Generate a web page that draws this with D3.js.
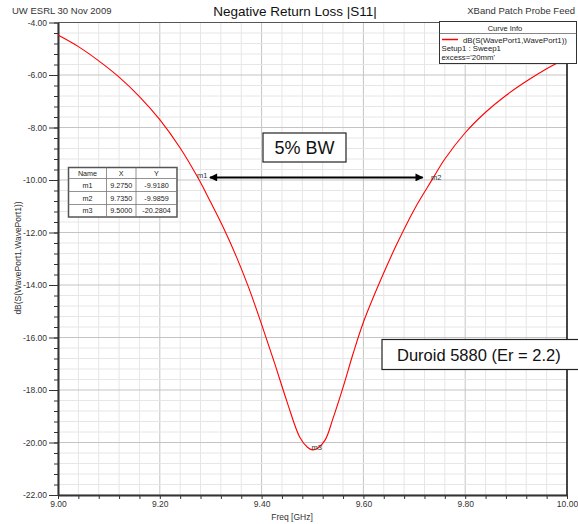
<!DOCTYPE html>
<html>
<head>
<meta charset="utf-8">
<script src="https://cdn.jsdelivr.net/npm/d3@7"></script>
<style>
  html, body { margin: 0; padding: 0; background: #fff; }
  svg { display: block; font-family: "Liberation Sans", Arial, sans-serif; }
</style>
</head>
<body>
<svg id="chart" width="578" height="524"></svg>
<script>
// Swept S11 of the X-band patch (probe feed)
const freqGHz = [9.00, 9.04, 9.08, 9.12, 9.16, 9.20, 9.24, 9.275, 9.30, 9.325, 9.35, 9.375, 9.40, 9.425,
                 9.45, 9.475, 9.49, 9.50, 9.51, 9.525, 9.54, 9.56, 9.58, 9.60, 9.633, 9.665, 9.70, 9.735,
                 9.76, 9.80, 9.84, 9.88, 9.92, 9.96, 10.00];
const s11dB   = [-4.48, -4.92, -5.46, -6.08, -6.82, -7.70, -8.78, -9.918, -10.85, -11.82, -12.90, -14.12, -15.50, -16.95,
                 -18.45, -19.80, -20.18, -20.2804, -20.22, -19.90, -19.10, -17.90, -16.60, -15.42, -13.85, -12.47, -11.12, -9.9859,
                 -9.20, -8.20, -7.42, -6.78, -6.24, -5.76, -5.35];

// Marker table
const markerNames = ["m1", "m2", "m3"];
const markerFreq  = [9.2750, 9.7350, 9.5000];
const markerDB    = [-9.9180, -9.9859, -20.2804];

// Bandwidth arrow span (GHz) and level (dB)
const bwFreq  = [9.2985, 9.7165];
const bwLevel = -9.9;

// Axis ticks
const xTicks = [9.00, 9.20, 9.40, 9.60, 9.80, 10.00];
const yTicks = [-22, -20, -18, -16, -14, -12, -10, -8, -6, -4];
const xMinorStep = 0.04;
const yMinorStep = 0.4;

const svg = d3.select("#chart");
const plotL = 58, plotR = 567, plotT = 22.5, plotB = 495;
const x = d3.scaleLinear().domain([9, 10]).range([plotL, plotR]);
const y = d3.scaleLinear().domain([-22, -4]).range([plotB, plotT]);

const fix = n => v => v.toFixed(n);   // plain hyphen-minus, fixed decimals
const xMinor = d3.range(0, 26).map(i => +(9 + i * xMinorStep).toFixed(3));
const yMinor = d3.range(0, 46).map(i => +(-22 + i * yMinorStep).toFixed(3));
const isMajorX = v => xTicks.some(t => Math.abs(t - v) < 1e-6);
const isMajorY = v => yTicks.some(t => Math.abs(t - v) < 1e-6);

// Grid
const grid = svg.append("g");
grid.selectAll("line.vx").data(xMinor).join("line")
  .attr("x1", d => x(d)).attr("x2", d => x(d))
  .attr("y1", plotT).attr("y2", plotB)
  .attr("stroke", d => isMajorX(d) ? "#c4c4c4" : "#e6e6e6")
  .attr("stroke-width", 1);
grid.selectAll("line.hy").data(yMinor).join("line")
  .attr("y1", d => y(d)).attr("y2", d => y(d))
  .attr("x1", plotL).attr("x2", plotR)
  .attr("stroke", d => isMajorY(d) ? "#c4c4c4" : "#e6e6e6")
  .attr("stroke-width", 1);

// Plot frame (top and right)
svg.append("line").attr("x1", plotL).attr("x2", plotR).attr("y1", plotT).attr("y2", plotT)
  .attr("stroke", "#555").attr("stroke-width", 1);
svg.append("line").attr("x1", plotR).attr("x2", plotR).attr("y1", plotT).attr("y2", plotB)
  .attr("stroke", "#111").attr("stroke-width", 1.5);

// Minor ticks
svg.append("g").attr("transform", `translate(${plotL},0)`)
  .call(d3.axisLeft(y).tickValues(yMinor).tickSize(4).tickFormat(""))
  .call(g => g.select(".domain").remove())
  .call(g => g.selectAll("line").attr("stroke", "#333"));
svg.append("g").attr("transform", `translate(0,${plotB})`)
  .call(d3.axisBottom(x).tickValues(xMinor).tickSize(4).tickFormat(""))
  .call(g => g.select(".domain").remove())
  .call(g => g.selectAll("line").attr("stroke", "#333"));

// Major axes
const yAxis = svg.append("g").attr("transform", `translate(${plotL},0)`)
  .call(d3.axisLeft(y).tickValues(yTicks).tickSize(9).tickSizeOuter(0).tickPadding(2).tickFormat(fix(2)));
yAxis.select(".domain").attr("stroke", "#333").attr("stroke-width", 2);
yAxis.selectAll("line").attr("stroke", "#333");
yAxis.selectAll("text").attr("font-size", 8.5).attr("fill", "#333")
  .attr("font-family", "'Liberation Sans', Arial, sans-serif");

const xAxis = svg.append("g").attr("transform", `translate(0,${plotB})`)
  .call(d3.axisBottom(x).tickValues(xTicks).tickSize(0).tickSizeOuter(0).tickPadding(6).tickFormat(fix(2)));
xAxis.select(".domain").attr("stroke", "#333").attr("stroke-width", 2);
xAxis.selectAll("text").attr("font-size", 8.5).attr("fill", "#333")
  .attr("font-family", "'Liberation Sans', Arial, sans-serif");

// Axis titles
svg.append("text").attr("x", 292).attr("y", 520).attr("text-anchor", "middle")
  .attr("font-size", 8.5).attr("fill", "#333").text("Freq [GHz]");
svg.append("text").attr("transform", "translate(21,258) rotate(-90)").attr("text-anchor", "middle")
  .attr("font-size", 8.5).attr("fill", "#333").text("dB(S(WavePort1,WavePort1))");

// Header texts
svg.append("text").attr("x", 12).attr("y", 14).attr("font-size", 9.5).attr("fill", "#333")
  .text("UW ESRL 30 Nov 2009");
svg.append("text").attr("x", 295).attr("y", 16).attr("text-anchor", "middle").attr("font-size", 13.5)
  .attr("fill", "#111").text("Negative Return Loss |S11|");
svg.append("text").attr("x", 575).attr("y", 14).attr("text-anchor", "end").attr("font-size", 9.5)
  .attr("fill", "#333").text("XBand Patch Probe Feed");

// Curve
const pts = freqGHz.map((f, i) => [f, s11dB[i]]);
svg.append("path").datum(pts)
  .attr("fill", "none").attr("stroke", "#ff0000").attr("stroke-width", 1.1)
  .attr("d", d3.line().x(d => x(d[0])).y(d => y(d[1])).curve(d3.curveCatmullRom.alpha(0.5)));

// Marker labels
svg.selectAll("text.mk").data(markerNames).join("text")
  .attr("x", (d, i) => x(markerFreq[i]) - 1)
  .attr("y", (d, i) => y(markerDB[i]) + 0.5)
  .attr("font-size", 7.5).attr("fill", "#333").text(d => d);

// Bandwidth arrow
const defs = svg.append("defs");
defs.append("marker").attr("id", "ah").attr("viewBox", "0 0 10 10").attr("refX", 9).attr("refY", 5)
  .attr("markerWidth", 5).attr("markerHeight", 4).attr("markerUnits", "strokeWidth").attr("orient", "auto-start-reverse")
  .append("path").attr("d", "M0,0 L10,5 L0,10 Z").attr("fill", "#000");
svg.append("line")
  .attr("x1", x(bwFreq[0])).attr("x2", x(bwFreq[1]))
  .attr("y1", y(bwLevel)).attr("y2", y(bwLevel))
  .attr("stroke", "#000").attr("stroke-width", 2)
  .attr("marker-start", "url(#ah)").attr("marker-end", "url(#ah)");

// "5% BW" note
svg.append("rect").attr("x", 263).attr("y", 133).attr("width", 83).attr("height", 29)
  .attr("fill", "#fff").attr("stroke", "#222").attr("stroke-width", 1.2);
svg.append("text").attr("x", 304.5).attr("y", 154).attr("text-anchor", "middle")
  .attr("font-size", 18).attr("fill", "#111").text("5% BW");

// Substrate note
svg.append("rect").attr("x", 382).attr("y", 339.5).attr("width", 200).attr("height", 30)
  .attr("fill", "#fff").attr("stroke", "#222").attr("stroke-width", 1.2);
svg.append("text").attr("x", 397).attr("y", 361).attr("font-size", 16.5)
  .attr("fill", "#111").text("Duroid 5880 (Er = 2.2)");

// Marker table
const tbl = svg.append("g");
const colX = [68.5, 106.5, 136, 177];
const rowY = [167.5, 178.5, 191.5, 204.5, 217];
tbl.append("rect").attr("x", colX[0]).attr("y", rowY[0]).attr("width", colX[3] - colX[0]).attr("height", rowY[4] - rowY[0])
  .attr("fill", "#fff").attr("stroke", "#555").attr("stroke-width", 1.5);
colX.slice(1, 3).forEach(cx => tbl.append("line").attr("x1", cx).attr("x2", cx).attr("y1", rowY[0]).attr("y2", rowY[4])
  .attr("stroke", "#777").attr("stroke-width", 0.8));
rowY.slice(1, 4).forEach(ry => tbl.append("line").attr("y1", ry).attr("y2", ry).attr("x1", colX[0]).attr("x2", colX[3])
  .attr("stroke", "#777").attr("stroke-width", 0.8));
const fmt4 = fix(4);
const rows = [["Name", "X", "Y"]].concat(markerNames.map((n, i) => [n, fmt4(markerFreq[i]), fmt4(markerDB[i])]));
rows.forEach((r, ri) => r.forEach((c, ci) => {
  tbl.append("text").attr("x", (colX[ci] + colX[ci + 1]) / 2).attr("y", (rowY[ri] + rowY[ri + 1]) / 2 + 2.6)
    .attr("text-anchor", "middle").attr("font-size", 7.2).attr("fill", "#222").text(c);
}));

// Curve info legend
const lg = svg.append("g");
lg.append("rect").attr("x", 439.5).attr("y", 21.5).attr("width", 137).attr("height", 42)
  .attr("fill", "#fff").attr("stroke", "#333").attr("stroke-width", 1);
lg.append("line").attr("x1", 439.5).attr("x2", 576.5).attr("y1", 33.5).attr("y2", 33.5)
  .attr("stroke", "#666").attr("stroke-width", 0.8);
lg.append("text").attr("x", 505).attr("y", 30.5).attr("text-anchor", "middle").attr("font-size", 7.5)
  .attr("fill", "#222").text("Curve Info");
lg.append("line").attr("x1", 442).attr("x2", 458).attr("y1", 39.5).attr("y2", 39.5)
  .attr("stroke", "#ff0000").attr("stroke-width", 1.5);
lg.append("text").attr("x", 463).attr("y", 42.5).attr("font-size", 7.8).attr("fill", "#222")
  .text("dB(S(WavePort1,WavePort1))");
lg.append("text").attr("x", 441.5).attr("y", 51).attr("font-size", 7.8).attr("fill", "#222")
  .text("Setup1 : Sweep1");
lg.append("text").attr("x", 441.5).attr("y", 60).attr("font-size", 7.8).attr("fill", "#222")
  .text("excess='20mm'");
</script>
</body>
</html>
